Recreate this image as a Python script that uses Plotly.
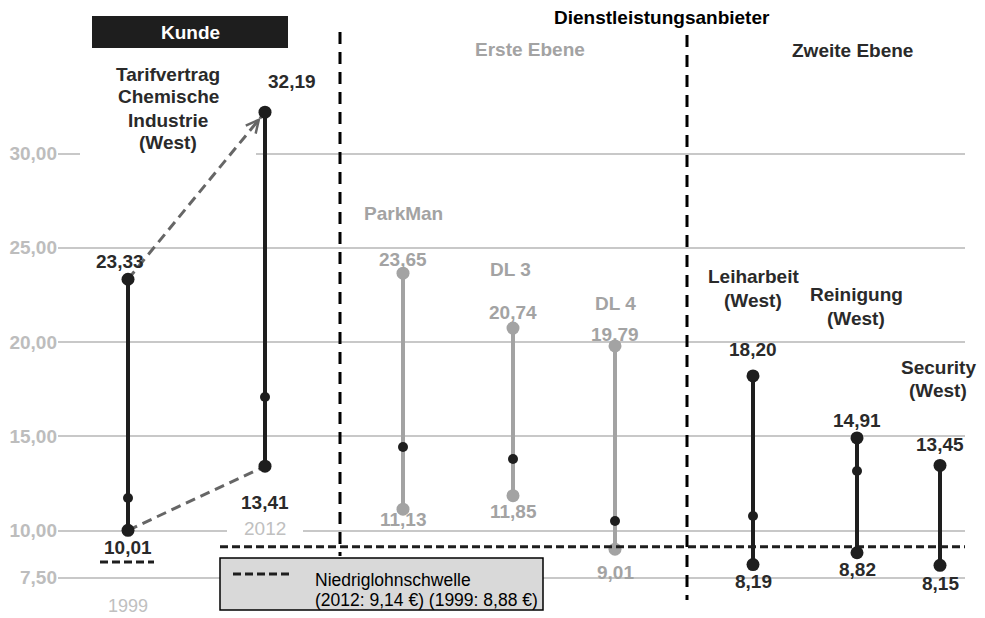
import plotly.graph_objects as go

# ---------------- data ----------------
categories = ["1999", "2012", "ParkMan", "DL 3", "DL 4",
              "Leiharbeit (West)", "Reinigung (West)", "Security (West)"]
groups = ["Kunde", "Kunde", "Erste Ebene", "Erste Ebene", "Erste Ebene",
          "Zweite Ebene", "Zweite Ebene", "Zweite Ebene"]
max_vals = [23.33, 32.19, 23.65, 20.74, 19.79, 18.20, 14.91, 13.45]
min_vals = [10.01, 13.41, 11.13, 11.85, 9.01, 8.19, 8.82, 8.15]
mid_vals = [11.72, 17.08, 14.43, 13.79, 10.50, 10.77, 13.16, None]
threshold_2012 = 9.14
threshold_1999 = 8.88
y_tick_vals = [7.5, 10, 15, 20, 25, 30]
y_tick_text = ["7,50", "10,00", "15,00", "20,00", "25,00", "30,00"]

# ---------------- layout helpers ----------------
W, H = 985, 618
x_pos = [128, 265, 403, 513, 615, 753, 857, 940]   # horizontal slot of each category
FONT = "Liberation Sans, Arial, sans-serif"
BLACK = "#1e1e1e"
TXT = "#2a2a2a"
GREY = "#a3a3a3"
LIGHT = "#c0c0c0"
group_color = {"Kunde": BLACK, "Erste Ebene": GREY, "Zweite Ebene": BLACK}


def fmt(v):
    return f"{v:.2f}".replace(".", ",")


def py(p):
    return 1 - p / H


fig = go.Figure()

# dashed arrows 1999 -> 2012
for a, b in [(max_vals[0], max_vals[1]), (min_vals[0], min_vals[1])]:
    fig.add_trace(go.Scatter(x=[x_pos[0], x_pos[1]], y=[a, b], mode="lines",
                             line=dict(color="#666666", width=3, dash="10px,6px"),
                             hoverinfo="skip", showlegend=False))

# range lines with end dots and middle dot
for i, cat in enumerate(categories):
    col = group_color[groups[i]]
    fig.add_trace(go.Scatter(x=[x_pos[i], x_pos[i]], y=[min_vals[i], max_vals[i]],
                             mode="lines+markers",
                             line=dict(color=col, width=4),
                             marker=dict(color=col, size=13),
                             name=cat, showlegend=False))
    if mid_vals[i] is not None:
        fig.add_trace(go.Scatter(x=[x_pos[i]], y=[mid_vals[i]], mode="markers",
                                 marker=dict(color=BLACK, size=10),
                                 showlegend=False))

ann = []
# arrowheads
for a, b in [(max_vals[0], max_vals[1]), (min_vals[0], min_vals[1])]:
    ann.append(dict(x=x_pos[1], y=b, xref="x", yref="y",
                    ax=x_pos[1] - 0.08 * (x_pos[1] - x_pos[0]), ay=b - 0.08 * (b - a),
                    axref="x", ayref="y", text="", showarrow=True,
                    arrowhead=5, arrowsize=1, arrowwidth=2.5, arrowcolor="#666666",
                    standoff=7))

# value labels
top_shift = [(-8, 18), (27, 31), (0, 14), (0, 16), (0, 11), (0, 26), (0, 17), (0, 21)]
bot_shift = [(0, -17), (0, -36), (0, -10), (0, -16), (0, -23), (0, -17), (0, -17), (0, -18)]
for i in range(len(categories)):
    col = GREY if groups[i] == "Erste Ebene" else TXT
    ann.append(dict(x=x_pos[i], y=max_vals[i], xref="x", yref="y",
                    text=f"<b>{fmt(max_vals[i])}</b>",
                    showarrow=False, xshift=top_shift[i][0], yshift=top_shift[i][1],
                    font=dict(family=FONT, size=19, color=col)))
    ann.append(dict(x=x_pos[i], y=min_vals[i], xref="x", yref="y",
                    text=f"<b>{fmt(min_vals[i])}</b>",
                    showarrow=False, xshift=bot_shift[i][0], yshift=bot_shift[i][1],
                    font=dict(family=FONT, size=19, color=col)))


def label(x, y, text, color=TXT, size=19, bold=True, xanchor="center", **kw):
    t = f"<b>{text}</b>" if bold else text
    ann.append(dict(x=x, y=py(y), xref="x", yref="paper", text=t, showarrow=False,
                    xanchor=xanchor, yanchor="middle",
                    font=dict(family=FONT, size=size, color=color), **kw))


def multiline(x, ys, lines, color=TXT, size=19):
    for y, t in zip(ys, lines):
        label(x, y, t, color=color, size=size)


# category / header labels
multiline(168, [74, 97, 120, 143], ["Tarifvertrag", "Chemische", "Industrie", "(West)"])
label(x_pos[0], 606, "1999", color=LIGHT, bold=False, size=18)
label(x_pos[1], 528, "2012", color=LIGHT, bold=False)
label(403, 213, "ParkMan", color=GREY)
label(510, 269, "DL 3", color=GREY)
label(615, 303, "DL 4", color=GREY)
multiline(753, [277, 300], ["Leiharbeit", "(West)"])
multiline(856, [295, 318], ["Reinigung", "(West)"])
multiline(938, [367, 390], ["Security", "(West)"])
label(190, 32, "Kunde", color="white", size=19)
label(662, 18, "Dienstleistungsanbieter", color="black", size=19)
label(530, 49, "Erste Ebene", color=GREY, size=19)
label(852, 50, "Zweite Ebene", color=TXT, size=19)
label(31, 38, "€/h", color=LIGHT, size=19)
label(313, 580, "Niedriglohnschwelle", bold=False, size=17.5, xanchor="left", color="black")
label(313, 600, "(2012: 9,14 €) (1999: 8,88 €)", bold=False, size=17.5, xanchor="left",
      color="black")

shapes = [
    # gaps in gridlines behind texts
    dict(type="rect", xref="x", yref="y", x0=80, x1=256, y0=29.7, y1=30.3,
         fillcolor="white", line=dict(width=0), layer="between"),
    dict(type="rect", xref="x", yref="y", x0=227, x1=303, y0=9.8, y1=10.2,
         fillcolor="white", line=dict(width=0), layer="between"),
    # Kunde header box
    dict(type="rect", xref="x", yref="paper", x0=92, x1=288, y0=py(48), y1=py(16),
         fillcolor="#1e1e1e", line=dict(width=0), layer="below"),
    # section dividers
    dict(type="line", xref="x", yref="paper", x0=340, x1=340, y0=py(32), y1=py(556),
         line=dict(color="black", width=3, dash="12px,8px")),
    dict(type="line", xref="x", yref="paper", x0=687, x1=687, y0=py(35), y1=py(600),
         line=dict(color="black", width=3, dash="12px,8px")),
    # low wage thresholds
    dict(type="line", xref="x", yref="y", x0=220, x1=965, y0=threshold_2012, y1=threshold_2012,
         line=dict(color=BLACK, width=3, dash="8px,4px")),
    dict(type="line", xref="x", yref="paper", x0=100, x1=154, y0=py(562), y1=py(562),
         line=dict(color=BLACK, width=3, dash="8px,4px")),
    # legend box
    dict(type="rect", xref="x", yref="paper", x0=220, x1=543, y0=py(610), y1=py(558),
         fillcolor="#d9d9d9", line=dict(color="black", width=1.5), layer="above"),
    dict(type="line", xref="x", yref="paper", x0=233, x1=290, y0=py(574), y1=py(574),
         line=dict(color=BLACK, width=3, dash="8px,4px")),
]

fig.update_layout(
    width=W, height=H,
    margin=dict(l=58, r=20, t=0, b=0),
    paper_bgcolor="white", plot_bgcolor="white",
    showlegend=False,
    xaxis=dict(range=[58, 965], visible=False, fixedrange=True),
    yaxis=dict(range=[10 - 87.5 / 18.85, 10 + 530.5 / 18.85],
               tickvals=y_tick_vals, ticktext=y_tick_text,
               showgrid=True, gridcolor="#c8c8c8", gridwidth=1.5,
               zeroline=False, showline=False, ticks="", ticklabelstandoff=0,
               tickfont=dict(family=FONT, size=19, color="#bdbdbd", weight="bold")),
    annotations=ann,
    shapes=shapes,
)

fig.write_html("out.html", config={"displayModeBar": False},
               post_script="document.body.style.margin='0px';document.body.style.overflow='hidden';")
